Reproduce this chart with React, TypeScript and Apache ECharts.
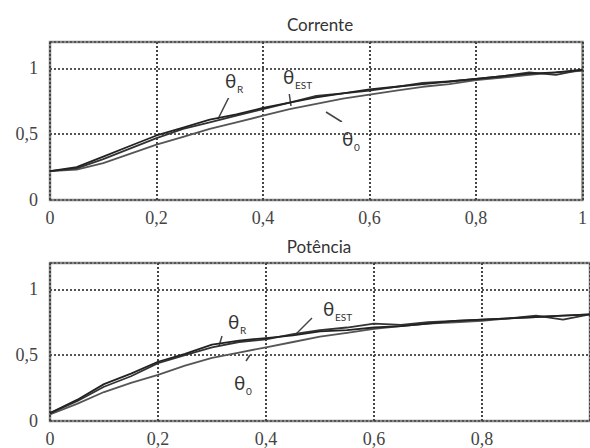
import React, { useEffect, useRef } from "react";
import * as echarts from "echarts";

const xs = [0, 0.05, 0.1, 0.15, 0.2, 0.25, 0.3, 0.35, 0.4, 0.45, 0.5, 0.55, 0.6, 0.65, 0.7, 0.75, 0.8, 0.85, 0.9, 0.95, 1];

const corrR = [0.22, 0.25, 0.33, 0.41, 0.49, 0.55, 0.61, 0.65, 0.7, 0.74, 0.78, 0.81, 0.84, 0.86, 0.88, 0.9, 0.92, 0.94, 0.96, 0.97, 0.99];
const corrEst = [0.22, 0.24, 0.31, 0.39, 0.47, 0.54, 0.59, 0.64, 0.69, 0.74, 0.79, 0.81, 0.83, 0.86, 0.89, 0.9, 0.92, 0.94, 0.97, 0.95, 0.99];
const corr0 = [0.22, 0.23, 0.28, 0.35, 0.42, 0.48, 0.54, 0.59, 0.64, 0.69, 0.73, 0.77, 0.8, 0.83, 0.86, 0.88, 0.91, 0.93, 0.95, 0.97, 0.98];

const potR = [0.06, 0.16, 0.28, 0.36, 0.45, 0.51, 0.58, 0.61, 0.63, 0.65, 0.68, 0.69, 0.71, 0.72, 0.74, 0.76, 0.77, 0.78, 0.79, 0.8, 0.81];
const potEst = [0.06, 0.15, 0.26, 0.34, 0.44, 0.5, 0.56, 0.6, 0.62, 0.66, 0.69, 0.71, 0.74, 0.73, 0.75, 0.76, 0.77, 0.78, 0.8, 0.77, 0.81];
const pot0 = [0.05, 0.13, 0.22, 0.29, 0.35, 0.42, 0.48, 0.52, 0.56, 0.6, 0.64, 0.67, 0.7, 0.72, 0.74, 0.75, 0.76, 0.78, 0.79, 0.8, 0.81];

const titles = ["Corrente", "Potência"];

const SERIF = "Liberation Serif";
const SANS = "Lato";

const pair = (ys: number[]) => xs.map((x, i) => [x, ys[i]]);
const fmt = (v: number) => String(Math.round(v * 10) / 10).replace(".", ",");

function label(x: number, y: number, sub: string, w: number) {
  return {
    type: "group",
    x,
    y,
    children: [
      { type: "rect", shape: { x: 0, y: 0, width: w, height: 34 }, style: { fill: "#fff" } },
      { type: "text", x: 3, y: 7, style: { text: "θ", fontSize: 19, fontFamily: SANS, fill: "#333" } },
      { type: "text", x: 15, y: 20, style: { text: sub, fontSize: 10, fontFamily: SANS, fill: "#333" } },
    ],
  };
}
function leader(x1: number, y1: number, x2: number, y2: number) {
  return { type: "line", shape: { x1, y1, x2, y2 }, style: { stroke: "#444", lineWidth: 1.5 } };
}

export default function App() {
  const ref = useRef<HTMLDivElement>(null);
  useEffect(() => {
    const chart = echarts.init(ref.current!, null, { renderer: "svg" });
    const labelStyle = {
      fontFamily: SERIF,
      fontSize: 18,
      color: "#444",
    };
    const xAxis = (gi: number, showMax: boolean) => ({
      type: "value",
      gridIndex: gi,
      min: 0,
      max: 1,
      interval: 0.2,
      axisLine: { show: false },
      axisTick: { show: false },
      axisLabel: {
        ...labelStyle,
        margin: 9,
        showMaxLabel: showMax,
        formatter: (v: number) => fmt(v),
      },
      splitLine: { show: true, lineStyle: { color: "#444", type: [2, 2], width: 2 } },
    });
    const yAxis = (gi: number) => ({
      type: "value",
      gridIndex: gi,
      min: 0,
      max: 1.2,
      interval: 0.5,
      axisLine: { show: false },
      axisTick: { show: false },
      axisLabel: {
        ...labelStyle,
        margin: 12,
        showMaxLabel: false,
        formatter: (v: number) => (Math.abs(v * 2 - Math.round(v * 2)) < 1e-6 ? fmt(v) : ""),
      },
      splitLine: { show: true, lineStyle: { color: "#555", type: [2, 2], width: 2 } },
    });
    const line = (ys: number[], gi: number, color: string) => ({
      type: "line",
      xAxisIndex: gi,
      yAxisIndex: gi,
      data: pair(ys),
      symbol: "none",
      lineStyle: { color, width: 1.8 },
    });
    chart.setOption({
      animation: false,
      backgroundColor: "#fff",
      textStyle: { fontFamily: SERIF },
      title: [
        { text: titles[0], left: 315, top: 11, textAlign: "center", textStyle: { fontFamily: SANS, fontWeight: "normal", fontSize: 17, color: "#333" } },
        { text: titles[1], left: 314, top: 233, textAlign: "center", textStyle: { fontFamily: SANS, fontWeight: "normal", fontSize: 17, color: "#333" } },
      ],
      grid: [
        { left: 50, top: 42, width: 540, height: 158, show: true, borderColor: "#888", borderWidth: 2.5, backgroundColor: "transparent" },
        { left: 50, top: 263, width: 540, height: 158, show: true, borderColor: "#888", borderWidth: 2.5, backgroundColor: "transparent" },
      ],
      xAxis: [xAxis(0, true), xAxis(1, false)],
      yAxis: [yAxis(0), yAxis(1)],
      series: [
        line(corr0, 0, "#555"),
        line(corrEst, 0, "#333"),
        line(corrR, 0, "#222"),
        line(pot0, 1, "#555"),
        line(potEst, 1, "#333"),
        line(potR, 1, "#222"),
      ],
      graphic: [
        leader(229, 97, 218, 119),
        leader(289, 92, 291, 106),
        leader(342, 122, 326, 112),
        leader(222, 336, 219, 346),
        leader(312, 318, 296, 334),
        leader(250, 355, 246, 361),
        label(222, 64, "R", 32),
        label(280, 60, "EST", 44),
        label(339, 122, "0", 28),
        label(225, 305, "R", 32),
        label(320, 292, "EST", 44),
        label(231, 366, "0", 28),
      ],
    });
    return () => chart.dispose();
  }, []);
  return <div ref={ref} style={{ width: 590, height: 448, position: "absolute", left: 0, top: 0 }} />;
}
